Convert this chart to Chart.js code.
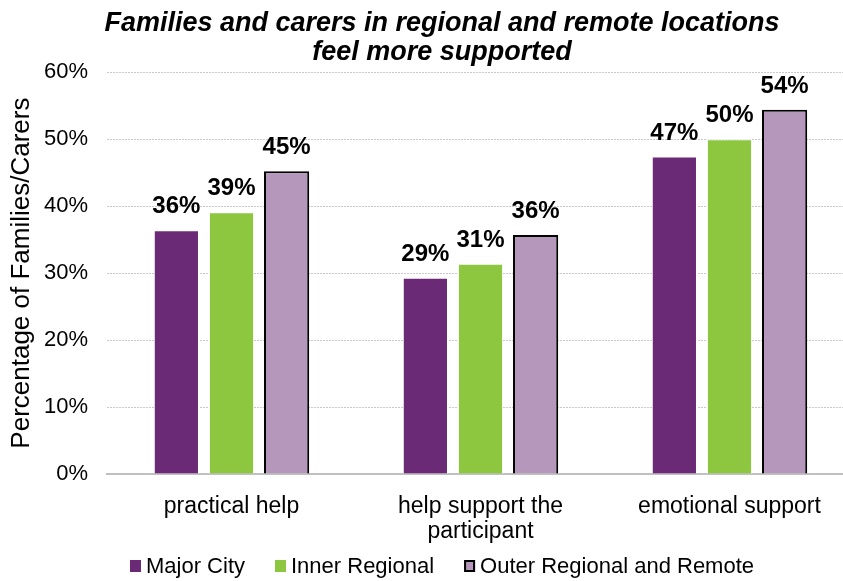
<!DOCTYPE html>
<html>
<head>
<meta charset="utf-8">
<script src="https://cdn.jsdelivr.net/npm/chart.js@4"></script>
<style>
  html, body { margin: 0; padding: 0; background: #fff; overflow: hidden; }
  #wrap { width: 884px; height: 589px; position: relative; }
</style>
</head>
<body>
<div id="wrap"><canvas id="c"></canvas></div>
<script>
const categories = [["practical help"], ["help support the", "participant"], ["emotional support"]];
const majorCity = [36.4, 29.3, 47.4];
const innerRegional = [39.1, 31.4, 50.0];
const outerRegional = [45.2, 35.7, 54.4];
const seriesNames = ["Major City", "Inner Regional", "Outer Regional and Remote"];
const yTicks = [0, 10, 20, 30, 40, 50, 60];

const FONT = "'Liberation Sans', Arial, sans-serif";

// Percentage labels above each bar
const barLabels = {
  id: 'barLabels',
  afterDatasetsDraw(chart) {
    const ctx = chart.ctx;
    ctx.save();
    ctx.font = "bold 24px " + FONT;
    ctx.fillStyle = '#000';
    ctx.textAlign = 'center';
    ctx.textBaseline = 'alphabetic';
    chart.data.datasets.forEach((ds, i) => {
      const meta = chart.getDatasetMeta(i);
      meta.data.forEach((bar, j) => {
        ctx.fillText(Math.round(ds.data[j]) + '%', bar.x, bar.y - 17);
      });
    });
    ctx.restore();
  }
};

// Compact legend row below the category labels
const bottomLegend = {
  id: 'bottomLegend',
  afterDraw(chart) {
    const ctx = chart.ctx;
    const box = 11, boxH = 12, textGap = 5, itemGap = 30;
    ctx.save();
    ctx.font = "22px " + FONT;
    const items = chart.data.datasets.map(ds => ({
      text: ds.label,
      fill: ds.backgroundColor,
      stroke: ds.borderColor === '#000000' ? '#000' : null,
      w: ctx.measureText(ds.label).width
    }));
    const total = items.reduce((s, it) => s + box + textGap + it.w, 0) + itemGap * (items.length - 1);
    let x = chart.width / 2 - total / 2;
    const cy = chart.chartArea.bottom + 92;
    ctx.textBaseline = 'middle';
    ctx.textAlign = 'left';
    items.forEach(it => {
      ctx.fillStyle = it.fill;
      ctx.fillRect(x, cy - boxH / 2, box, boxH);
      if (it.stroke) {
        ctx.strokeStyle = it.stroke;
        ctx.lineWidth = 2;
        ctx.strokeRect(x + 1, cy - boxH / 2 + 1, box - 2, boxH - 2);
      }
      ctx.fillStyle = '#000';
      ctx.fillText(it.text, x + box + textGap, cy + 1);
      x += box + textGap + it.w + itemGap;
    });
    ctx.restore();
  }
};

new Chart(document.getElementById('c'), {
  type: 'bar',
  data: {
    labels: categories,
    datasets: [
      { label: seriesNames[0], data: majorCity, backgroundColor: '#6B2A76', borderColor: '#ffffff', borderWidth: 1 },
      { label: seriesNames[1], data: innerRegional, backgroundColor: '#8DC63F', borderColor: '#ffffff', borderWidth: 1 },
      { label: seriesNames[2], data: outerRegional, backgroundColor: '#B497BA', borderColor: '#000000', borderWidth: 2 }
    ]
  },
  options: {
    responsive: true,
    maintainAspectRatio: false,
    animation: false,
    layout: { padding: { left: 0, right: 0, top: 0, bottom: 43 } },
    datasets: { bar: { categoryPercentage: 0.664, barPercentage: 0.82 } },
    plugins: {
      title: {
        display: true,
        text: ['Families and carers in regional and remote locations', 'feel more supported'],
        color: '#000',
        font: { family: FONT, size: 27, weight: 'bold', style: 'italic', lineHeight: 1.04 },
        padding: { top: 10, bottom: 6 }
      },
      legend: { display: false },
      tooltip: { enabled: false }
    },
    scales: {
      x: {
        grid: { display: false, drawTicks: false },
        border: { display: true, color: '#C0C0C0', width: 2 },
        ticks: { color: '#000', font: { family: FONT, size: 23, lineHeight: 1.09 }, padding: 20 },
        afterFit(scale) { scale.height = 72; }
      },
      y: {
        min: 0,
        max: 60,
        afterBuildTicks(scale) { scale.ticks = yTicks.map(v => ({ value: v })); },
        afterFit(scale) { scale.width = 107; },
        grid: { color: '#CACACA', lineWidth: 1, drawTicks: false },
        border: { display: false, dash: [2, 1] },
        ticks: {
          color: '#000',
          font: { family: FONT, size: 22 },
          padding: 19,
          callback: v => v + '%'
        },
        title: {
          display: true,
          text: 'Percentage of Families/Carers',
          color: '#000',
          font: { family: FONT, size: 26 },
          padding: { top: 6, bottom: 0 }
        }
      },
      // empty strip on the right of the plot area
      margin: {
        position: 'right',
        display: true,
        grid: { display: false, drawTicks: false },
        border: { display: false },
        ticks: { display: false },
        afterFit(scale) { scale.width = 30; }
      }
    }
  },
  plugins: [barLabels, bottomLegend]
});
</script>
</body>
</html>
